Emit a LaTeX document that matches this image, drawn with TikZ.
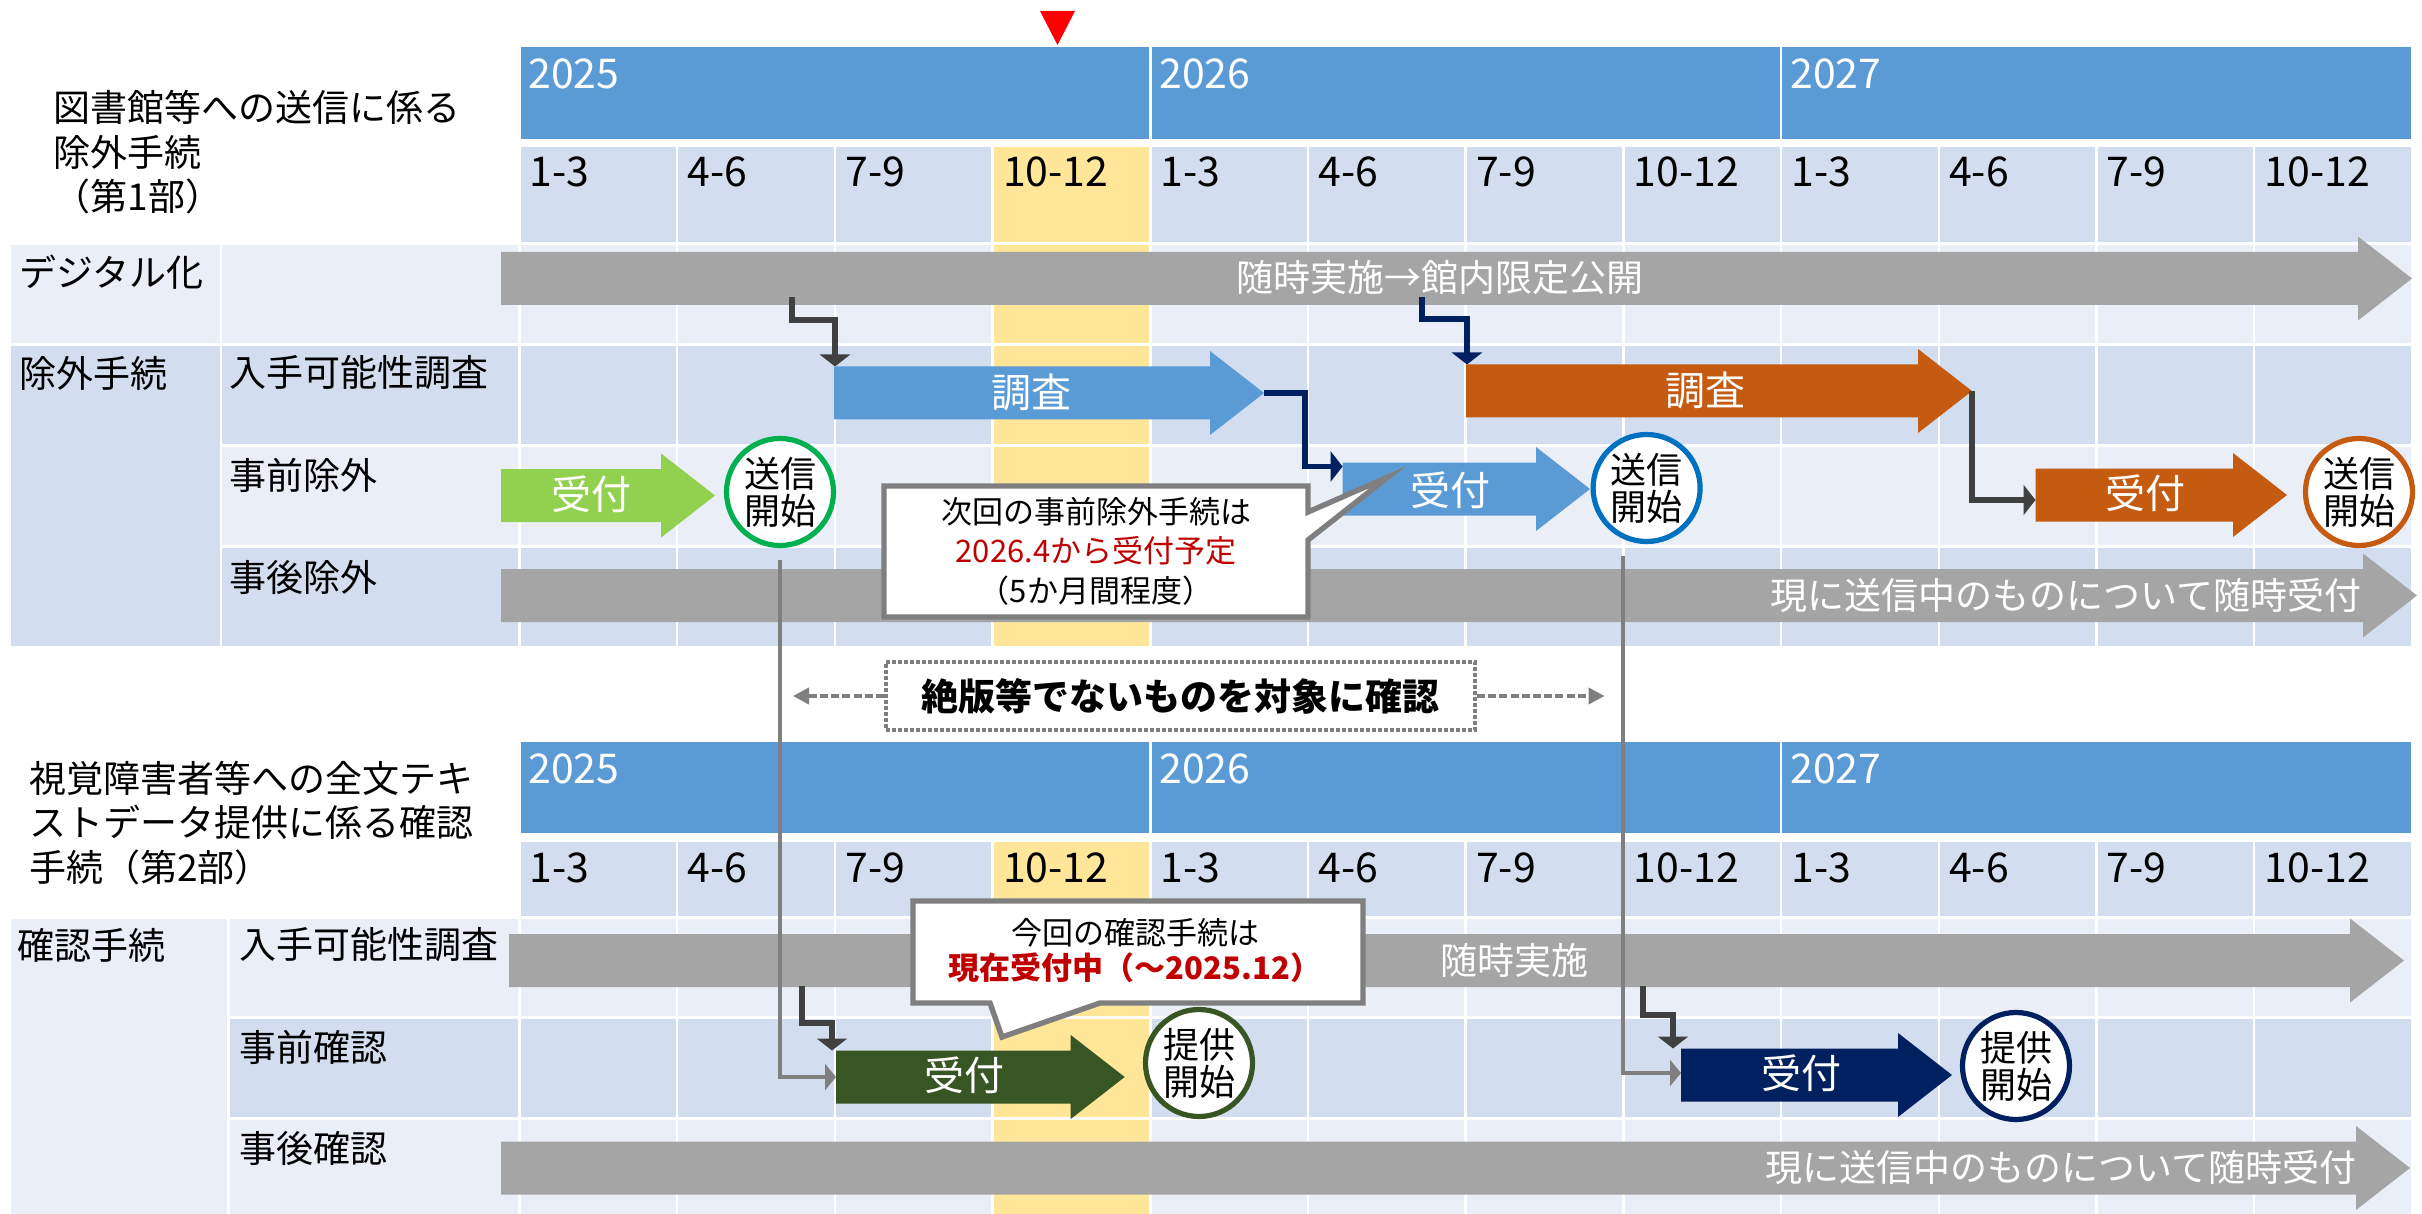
\documentclass[tikz,border=0pt]{standalone}
\usepackage{fontspec}
\setmainfont{Noto Sans CJK JP}
\usetikzlibrary{arrows.meta}
\definecolor{yearblue}{HTML}{5B9BD5}
\definecolor{celldark}{HTML}{D2DEEF}
\definecolor{celllight}{HTML}{E9EEF7}
\definecolor{hilite}{HTML}{FFE699}
\definecolor{graybar}{HTML}{A5A5A5}
\definecolor{bluebar}{HTML}{5B9BD5}
\definecolor{orangebar}{HTML}{C55A11}
\definecolor{greenbar}{HTML}{92D050}
\definecolor{greenring}{HTML}{00B050}
\definecolor{bluering}{HTML}{0070C0}
\definecolor{darkgreen}{HTML}{375623}
\definecolor{navy}{HTML}{002060}
\definecolor{darkline}{HTML}{404040}
\definecolor{midgray}{HTML}{7F7F7F}
\definecolor{notered}{HTML}{C00000}
\newcommand\ringfont{\fontsize{18}{18.5}\selectfont}
% block arrow: name, left x, tip x, centre y, colour
\newcommand\blockarr[5]{%
  \fill[#5] (#2,#4-26.5) -- (#3-54,#4-26.5) -- (#3-54,#4-42) -- (#3,#4) -- (#3-54,#4+42) -- (#3-54,#4+26.5) -- (#2,#4+26.5) -- cycle;
  \coordinate (#1-w) at (#2,#4);
  \coordinate (#1-e) at (#3,#4);
  \coordinate (#1-nw) at (#2,#4-26.5);
}
% grid row: top y, bottom y, colour
\newcommand\gridrow[3]{%
  \foreach \gi in {0,...,11}{%
    \pgfmathsetmacro\gxl{519.5+157.7*\gi+1.25}%
    \pgfmathsetmacro\gxr{519.5+157.7*(\gi+1)-1.25}%
    \ifnum\gi=3 \fill[hilite] (\gxl,#1) rectangle (\gxr,#2);%
    \else \fill[#3] (\gxl,#1) rectangle (\gxr,#2);\fi
  }}
\begin{document}
\begin{tikzpicture}[x=0.5pt,y=-0.5pt,
  lbl/.style={anchor=west,inner sep=0pt,font=\fontsize{18.5}{22}\selectfont},
  yr/.style={anchor=west,inner sep=0pt,text=white,font=\fontsize{20.5}{24}\selectfont},
  qt/.style={anchor=west,inner sep=0pt,font=\fontsize{20.5}{24}\selectfont},
  ttl/.style={anchor=west,inner sep=0pt,align=left,font=\fontsize{18.5}{22.25}\selectfont},
  bartext/.style={inner sep=0pt,text=white,font=\fontsize{20}{24}\selectfont},
  graytext/.style={inner sep=0pt,text=white,font=\fontsize{18.5}{22}\selectfont},
  ring/.style={circle,draw=#1,line width=2.6pt,fill=white,minimum size=53.5pt,inner sep=0pt,align=center,font=\ringfont},
  conn/.style={draw=darkline,line width=2.6pt,-{Triangle[width=15pt,length=6pt]}},
  connnavy/.style={conn,draw=navy},
  thinconn/.style={draw=midgray,line width=2pt,-{Triangle[width=13pt,length=5.5pt]}},
  dasharr/.style={draw=midgray,line width=2pt,dash pattern=on 4pt off 1.6pt,-{Triangle[width=8pt,length=8pt]}},
  bubble/.style={fill=white,draw=midgray,line width=2.7pt,line join=miter},
  notebox/.style={draw=midgray,fill=white,line width=2pt,dash pattern=on 2pt off 1pt,minimum width=294.5pt,minimum height=34pt,inner sep=0pt,font=\bfseries\fontsize{18.5}{22}\selectfont},
  calltext/.style={align=center,inner sep=0pt,font=\fontsize{15.5}{19.75}\selectfont}
]
\useasboundingbox (0,0) rectangle (2422,1214);
\fill[white] (0,0) rectangle (2422,1214);

% ---------- Part 1 background ----------
\fill[yearblue] (520.75,47) rectangle (1149.05,139);
\fill[yearblue] (1151.55,47) rectangle (1779.85,139);
\fill[yearblue] (1782.35,47) rectangle (2410.65,139);
\gridrow{147}{242}{celldark}
\gridrow{245}{343}{celllight}
\gridrow{346}{444}{celldark}
\gridrow{447}{545}{celllight}
\gridrow{548}{646}{celldark}
\fill[celllight] (11,245) rectangle (219.5,343);
\fill[celllight] (222,245) rectangle (518,343);
\fill[celldark] (11,346) rectangle (219.5,646);
\fill[celldark] (222,346) rectangle (518,444);
\fill[celllight] (222,447) rectangle (518,545);
\fill[celldark] (222,548) rectangle (518,646);

% ---------- Part 2 background ----------
\fill[yearblue] (520.75,742) rectangle (1149.05,833);
\fill[yearblue] (1151.55,742) rectangle (1779.85,833);
\fill[yearblue] (1782.35,742) rectangle (2410.65,833);
\gridrow{842}{916}{celldark}
\gridrow{919}{1016}{celllight}
\gridrow{1019}{1117}{celldark}
\gridrow{1120}{1214}{celllight}
\fill[celllight] (11,919) rectangle (227,1214);
\fill[celllight] (230,919) rectangle (518,1016);
\fill[celldark] (230,1019) rectangle (518,1117);
\fill[celllight] (230,1120) rectangle (518,1214);

% ---------- headers ----------
\node[yr] (ya1) at (528,74) {2025};
\node[yr] (ya2) at (1159,74) {2026};
\node[yr] (ya3) at (1790,74) {2027};
\node[yr] (yb1) at (528,769) {2025};
\node[yr] (yb2) at (1159,769) {2026};
\node[yr] (yb3) at (1790,769) {2027};
\foreach \q [count=\qi from 0] in {1-3,4-6,7-9,10-12,1-3,4-6,7-9,10-12,1-3,4-6,7-9,10-12}{
  \node[qt] (qa\qi) at ({519.5+157.7*\qi+10},172) {\q};
  \node[qt] (qb\qi) at ({519.5+157.7*\qi+10},868) {\q};
}
\fill[red] (1040,11) -- (1075,11) -- (1057.5,45) -- cycle;

% ---------- labels ----------
\node[ttl] (t1) at (53.5,152.5) {図書館等への送信に係る\\除外手続\\（第1部）};
\node[ttl] (t2) at (29,823) {視覚障害者等への全文テキ\\ストデータ提供に係る確認\\手続（第2部）};
\node[lbl] (l1) at (19,272) {デジタル化};
\node[lbl] (l2) at (19,373) {除外手続};
\node[lbl] (l3) at (229.5,373) {入手可能性調査};
\node[lbl] (l4) at (229.5,475) {事前除外};
\node[lbl] (l5) at (229.5,577) {事後除外};
\node[lbl] (m1) at (17,945) {確認手続};
\node[lbl] (m2) at (239,945) {入手可能性調査};
\node[lbl] (m3) at (239,1047) {事前確認};
\node[lbl] (m4) at (239,1148) {事後確認};

% ---------- block arrows ----------
\blockarr{dig}{501}{2412}{278.5}{graybar}
\blockarr{post1}{501}{2417}{595.5}{graybar}
\blockarr{inv1}{834}{1264}{393}{bluebar}
\blockarr{inv2}{1466}{1972}{391}{orangebar}
\blockarr{rec1}{501}{715}{495.5}{greenbar}
\blockarr{rec2}{1342.6}{1590}{489}{bluebar}
\blockarr{rec3}{2035.5}{2287}{495}{orangebar}
\blockarr{inv3}{509}{2404}{960.5}{graybar}
\blockarr{rec4}{836}{1124.7}{1077}{darkgreen}
\blockarr{rec5}{1681}{1952}{1075}{navy}
\blockarr{post2}{501}{2410}{1168}{graybar}

\node[graytext] (dig-t) at (1440,278) {随時実施→館内限定公開};
\node[graytext,anchor=east] (post1-t) at (2362,595.5) {現に送信中のものについて随時受付};
\node[bartext] (inv1-t) at (1031,392) {調査};
\node[bartext] (inv2-t) at (1705,390) {調査};
\node[bartext] (rec1-t) at (591,494) {受付};
\node[bartext] (rec2-t) at (1450,490) {受付};
\node[bartext] (rec3-t) at (2145,493) {受付};
\node[graytext] (inv3-t) at (1514.5,960) {随時実施};
\node[bartext] (rec4-t) at (964,1075) {受付};
\node[bartext] (rec5-t) at (1801,1073) {受付};
\node[graytext,anchor=east] (post2-t) at (2357,1167) {現に送信中のものについて随時受付};

% ---------- circles ----------
\node[ring=greenring] (c1) at (780,492) {送信\\開始};
\node[ring=bluering] (c2) at (1646.6,488) {送信\\開始};
\node[ring=orangebar] (c3) at (2359,492) {送信\\開始};
\node[ring=darkgreen] (c4) at (1199,1063) {提供\\開始};
\node[ring=navy] (c5) at (2016,1066) {提供\\開始};

% ---------- connectors ----------
\coordinate (k1s) at (792,297);
\coordinate (k2s) at (1422,297);
\coordinate (k7s) at (802,986);
\coordinate (k8s) at (1643,986);
\draw[conn] (k1s) -- ++(0,23) -| ([xshift=0.5pt]inv1-nw);
\draw[connnavy] (k2s) -- ++(0,22) -| ([xshift=0.5pt]inv2-nw);
\draw[connnavy] (inv1-e) -- ++(41,0) |- ([yshift=-2pt]rec2-nw);
\draw[conn] (inv2-e) |- ([yshift=-2.5pt]rec3-w);
\draw[thinconn] ([yshift=-6pt]c1.south) |- (rec4-w);
\draw[thinconn] ([xshift=-11.8pt,yshift=-6pt]c2.south) |- ([yshift=1pt]rec5-w);
\draw[conn] (k7s) -- ++(0,37) -| ([xshift=-2pt]rec4-nw);
\draw[conn] (k8s) -- ++(0,29) -| ([xshift=-4pt]rec5-nw);

% ---------- callouts ----------
\draw[bubble] (884,486) -- (1308,486) -- (1308,512) -- (1388,477) -- (1308,540) -- (1308,617) -- (884,617) -- cycle;
\node[calltext] (co1) at (1096,551) {次回の事前除外手続は\\\textcolor{notered}{2026.4から受付予定}\\（5か月間程度）};
\draw[bubble] (913,901) -- (1363,901) -- (1363,1003) -- (1100,1003) -- (1002,1037) -- (990,1003) -- (913,1003) -- cycle;
\node[calltext,font=\fontsize{15.5}{17.5}\selectfont] (co2) at (1135,950.5) {今回の確認手続は\\\textcolor{notered}{\bfseries 現在受付中（～2025.12）}};

% ---------- dashed note ----------
\node[notebox] (note) at (1180.5,696) {絶版等でないものを対象に確認};
\coordinate (dl) at (793,696);
\coordinate (dr) at (1604.5,696);
\draw[dasharr] (note.west) -- (dl);
\draw[dasharr] (note.east) -- (dr);
\end{tikzpicture}
\end{document}
